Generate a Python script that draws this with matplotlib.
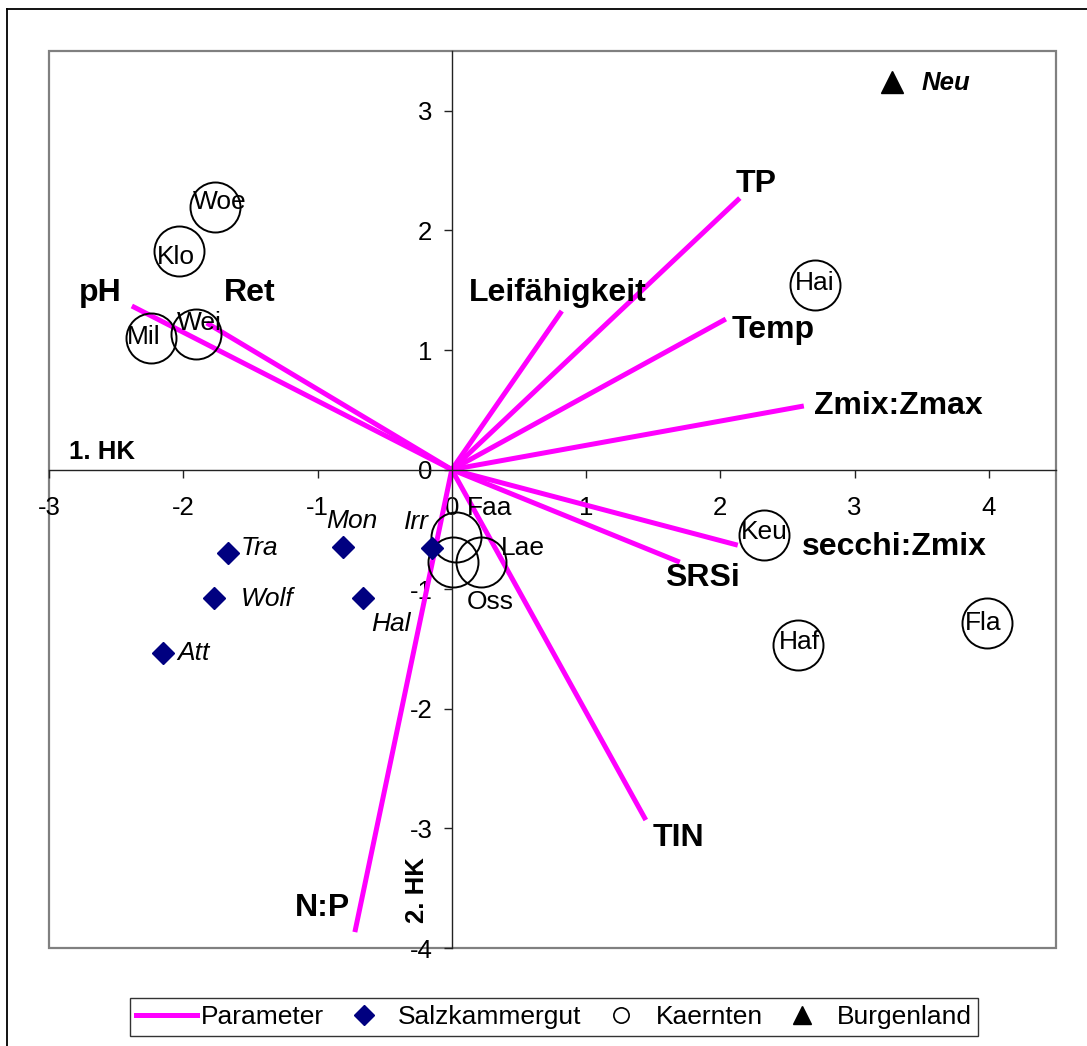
import matplotlib
matplotlib.use("Agg")
import matplotlib.pyplot as plt
from matplotlib.lines import Line2D
from matplotlib.patches import Rectangle

plt.rcParams['font.family'] = ['Liberation Sans', 'DejaVu Sans']
plt.rcParams['axes.unicode_minus'] = False

# ---- data ----
param_names = ["pH", "Ret", "Leifähigkeit", "TP", "Temp", "Zmix:Zmax",
               "secchi:Zmix", "SRSi", "TIN", "N:P"]
param_x = [-2.383, -1.825, 0.819, 2.145, 2.041, 2.622, 2.130, 1.698, 1.445, -0.722]
param_y = [1.368, 1.226, 1.326, 2.270, 1.259, 0.532, -0.632, -0.774, -2.930, -3.867]
# label offsets (pixels) from arrow tips
param_dx = [-32, 43, -4, 16, 47, 94, 157, 23, 33, -32]
param_dy = [13, 30, 18, 14, -11, 0, -2, -16, -18, 24]

kae_names = ["Woe", "Klo", "Mil", "Wei", "Hai", "Keu", "Haf", "Fla", "Faa", "Oss", "Lae"]
kae_x = [-1.765, -2.033, -2.242, -1.907, 2.704, 2.324, 2.577, 3.985, 0.030, 0.007, 0.216]
kae_y = [2.195, 1.828, 1.101, 1.134, 1.542, -0.547, -1.467, -1.283, -0.564, -0.773, -0.773]
kae_dx = [5, -3, -7, 4, 0, 0, 2, -4, 34, 38, 42]
kae_dy = [5, -6, 1, 11, 2, 3, 3, 0, 29, -40, 14]

salz_names = ["Tra", "Mon", "Irr", "Wolf", "Hal", "Att"]
salz_x = [-1.668, -0.812, -0.149, -1.773, -0.663, -2.152]
salz_y = [-0.699, -0.649, -0.657, -1.074, -1.074, -1.534]
salz_dx = [32, 9, -15, 53, 28, 31]
salz_dy = [5, 26, 26, -1, -26, 0]

burg_names = ["Neu"]
burg_x = [3.277]
burg_y = [3.240]

xticks = [-3, -2, -1, 0, 1, 2, 3, 4]
yticks = [-4, -3, -2, -1, 0, 1, 2, 3]

MAG = '#FF00FF'
NAVY = '#000080'
PX = 0.72  # px -> pt at 100 dpi

fig = plt.figure(figsize=(10.87, 10.46), dpi=100)
ax = fig.add_axes([49/1087, 1-948/1046, 1007/1087, 897/1046])
ax.set_xlim(-3, 4.5)
ax.set_ylim(-4, 3.5)

# outer chart frame
fig.add_artist(Line2D([7/1087, 7/1087], [0, 1-9/1046], transform=fig.transFigure,
                      color='black', lw=1.3))
fig.add_artist(Line2D([7/1087, 1.0], [1-9/1046, 1-9/1046], transform=fig.transFigure,
                      color='black', lw=1.3))

# plot area border
ax.add_patch(Rectangle((0, 0), 1, 1, transform=ax.transAxes, fill=False,
                       ec='#808080', lw=1.6, zorder=0.5, clip_on=False))

for s in ['top', 'right']:
    ax.spines[s].set_visible(False)
ax.spines['left'].set_position(('data', 0))
ax.spines['bottom'].set_position(('data', 0))
for s in ['left', 'bottom']:
    ax.spines[s].set_color('#222222')
    ax.spines[s].set_linewidth(1.0)

ax.set_xticks(xticks)
ax.set_yticks(yticks)
ax.set_xticklabels([str(t) for t in xticks])
ax.set_yticklabels([str(t) for t in yticks])
ax.tick_params(axis='x', direction='out', length=6, width=1, color='#222222',
               labelsize=18.5, pad=13)
ax.tick_params(axis='y', direction='out', length=6, width=1, color='#222222',
               labelsize=18.5, pad=8)

# parameter vectors
for name, x, y, dx, dy in zip(param_names, param_x, param_y, param_dx, param_dy):
    ax.plot([0, x], [0, y], color=MAG, lw=3.6, solid_capstyle='butt', zorder=2)
    ax.annotate(name, (x, y), xytext=(dx*PX, dy*PX), textcoords='offset points',
                ha='center', va='center', fontsize=23, fontweight='bold', zorder=5)

# Kaernten circles
ax.plot(kae_x, kae_y, 'o', ms=36, mfc='none', mec='black', mew=1.4, zorder=3,
        linestyle='none')
for name, x, y, dx, dy in zip(kae_names, kae_x, kae_y, kae_dx, kae_dy):
    ax.annotate(name, (x, y), xytext=(dx*PX, dy*PX), textcoords='offset points',
                ha='center', va='center', fontsize=19, zorder=5)

# Salzkammergut diamonds
ax.plot(salz_x, salz_y, 'D', ms=11, mfc=NAVY, mec=NAVY, zorder=4, linestyle='none')
for name, x, y, dx, dy in zip(salz_names, salz_x, salz_y, salz_dx, salz_dy):
    ax.annotate(name, (x, y), xytext=(dx*PX, dy*PX), textcoords='offset points',
                ha='center', va='center', fontsize=19, fontstyle='italic', zorder=5)

# Burgenland triangle
ax.plot(burg_x, burg_y, '^', ms=16, mfc='black', mec='black', zorder=4, linestyle='none')
for name, x, y in zip(burg_names, burg_x, burg_y):
    ax.annotate(name, (x, y), xytext=(54*PX, -1*PX), textcoords='offset points',
                ha='center', va='center', fontsize=18.5, fontstyle='italic',
                fontweight='bold', zorder=5)

# axis titles
ax.text((102-49)/1007, (948-452)/897, "1. HK", transform=ax.transAxes,
        ha='center', va='center', fontsize=18.5, fontweight='bold')
ax.text((417-49)/1007, (948-890)/897, "2. HK", transform=ax.transAxes,
        ha='center', va='center', fontsize=18.5, fontweight='bold', rotation=90)

# legend
handles = [
    Line2D([], [], color=MAG, lw=3.6),
    Line2D([], [], marker='D', ms=10, mfc=NAVY, mec=NAVY, linestyle='none'),
    Line2D([], [], marker='o', ms=11, mfc='none', mec='black', mew=1.2, linestyle='none'),
    Line2D([], [], marker='^', ms=13, mfc='black', mec='black', linestyle='none'),
]
labels = ["Parameter", "Salzkammergut", "Kaernten", "Burgenland"]
leg = fig.legend(handles, labels, loc='center', bbox_to_anchor=(554/1087, 1-1017/1046),
                 ncol=4, fontsize=19, frameon=True, fancybox=False,
                 edgecolor='black', handlelength=2.3, handletextpad=0.15,
                 columnspacing=0.35, borderpad=0.25, borderaxespad=0)
leg.get_frame().set_linewidth(1.0)

fig.savefig("out.png", dpi=100)
